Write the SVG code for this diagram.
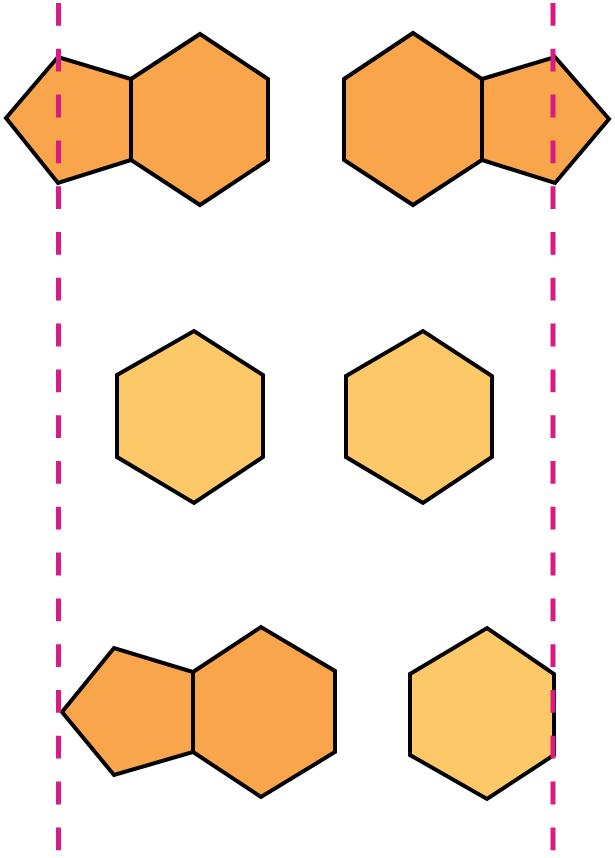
<svg xmlns="http://www.w3.org/2000/svg" width="615" height="858" viewBox="0 0 615 858">
<style>
.dark{fill:#F9A54B;stroke:#000;stroke-width:4;stroke-linejoin:miter}
.light{fill:#FDC867;stroke:#000;stroke-width:4;stroke-linejoin:miter}
.axis{stroke:#D91B84;stroke-width:5;stroke-dasharray:22.8 23;fill:none}
</style>
<rect width="615" height="858" fill="#fff"/>
<g id="mol-top-left">
<polygon class="dark" points="6,118 58,57 131,79 131,160 58,183"/>
<polygon class="dark" points="131,79 200,34 268,79 268,160 200,205 131,160"/>
</g>
<g id="mol-top-right">
<polygon class="dark" points="344,79 413,33 482,79 482,160 413,205 344,160"/>
<polygon class="dark" points="482,79 555,57 609,119 555,183 482,160"/>
</g>
<g id="hex-mid-left">
<polygon class="light" points="117,375 194,331 263,375 263,457 194,503 117,457"/>
</g>
<g id="hex-mid-right">
<polygon class="light" points="346,376 423,331 492,376 492,457 423,503 346,457"/>
</g>
<g id="mol-bottom-left">
<polygon class="dark" points="62,712 114,648 193,672 193,752 114,775"/>
<polygon class="dark" points="193,672 261,627 335,671 335,752 261,797 193,752"/>
</g>
<g id="hex-bottom-right">
<polygon class="light" points="410,674 487,628 554,674 554,755 487,799 410,755"/>
</g>
<g id="connectors">
<line class="axis" x1="58.5" y1="3" x2="58.5" y2="858"/>
<line class="axis" x1="553" y1="3" x2="553" y2="858"/>
</g>
</svg>
